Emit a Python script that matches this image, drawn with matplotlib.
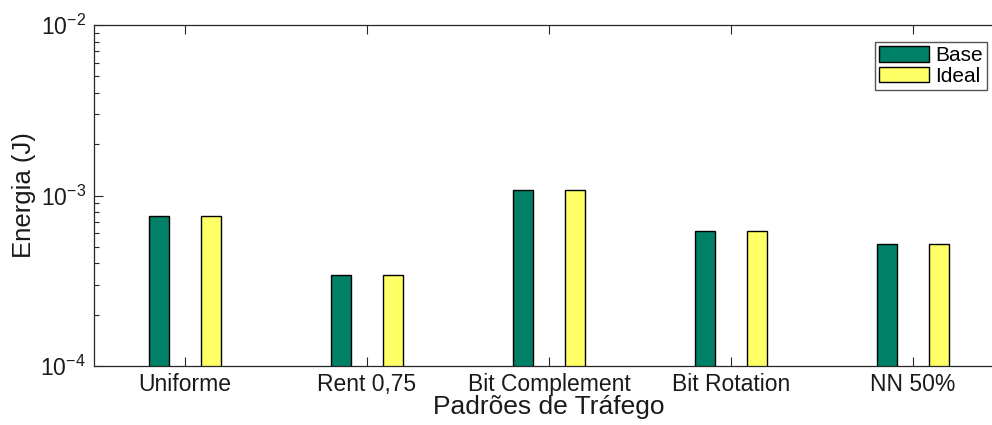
import numpy as np
import matplotlib
matplotlib.use("Agg")
import matplotlib.pyplot as plt
from matplotlib.ticker import LogLocator, NullFormatter, FixedLocator

plt.rcParams["font.family"] = ["Liberation Sans", "DejaVu Sans"]
plt.rcParams["mathtext.default"] = "regular"

# energy per traffic pattern (J)
padroes = ["Uniforme", "Rent 0,75", "Bit Complement", "Bit Rotation", "NN 50%"]
base = [7.52e-4, 3.31e-4, 1.073e-3, 6.11e-4, 5.10e-4]
ideal = [7.48e-4, 3.30e-4, 1.068e-3, 6.09e-4, 5.08e-4]
yticks = [1e-4, 1e-3, 1e-2]
ytick_labels = ["$10^{-4}$", "$10^{-3}$", "$10^{-2}$"]

GREEN, YELLOW = (0.0, 0.5, 0.4), (1.0, 1.0, 0.4)
AXC = "#262626"

fig = plt.figure(figsize=(9.92, 4.25), dpi=100)
ax = fig.add_axes([94 / 992, 59 / 425, 910 / 992, 341 / 425])

x = np.arange(1, len(padroes) + 1)
off, w = 0.143, 0.115
ax.bar(x - off, base, w, bottom=1e-5, color=GREEN, edgecolor="black", lw=1, label="Base")
ax.bar(x + off, ideal, w, bottom=1e-5, color=YELLOW, edgecolor="black", lw=1, label="Ideal")

ax.set_yscale("log")
ax.set_ylim(1e-4, 1e-2)
ax.set_xlim(0.5, 5.5)
ax.yaxis.set_major_locator(FixedLocator(yticks))
ax.set_yticklabels(ytick_labels, fontsize=16.5)
ax.yaxis.set_minor_locator(LogLocator(base=10, subs=np.arange(2, 10)))
ax.yaxis.set_minor_formatter(NullFormatter())
ax.set_xticks(x)
ax.set_xticklabels(padroes, fontsize=16.5)

ax.tick_params(axis="both", which="both", direction="in", colors=AXC,
               labelcolor="#1a1a1a", top=True, right=False)
ax.tick_params(axis="y", which="major", length=6.5, width=0.8, pad=6)
ax.tick_params(axis="y", which="minor", length=3.6, width=0.8)
ax.tick_params(axis="x", which="major", length=6.5, width=0.8, pad=5)
for s in ax.spines.values():
    s.set_color(AXC)
    s.set_linewidth(0.9)

ax.set_xlabel("Padrões de Tráfego", fontsize=19, labelpad=-1, color="#1a1a1a")
ax.set_ylabel("Energia (J)", fontsize=18.5, labelpad=3, color="#1a1a1a")

leg = ax.legend(loc="upper right", bbox_to_anchor=(987 / 992, 1 - 42 / 425),
                bbox_transform=fig.transFigure, fontsize=15, fancybox=False,
                edgecolor="#555555", framealpha=1, handlelength=2.4, handleheight=0.75,
                handletextpad=0.3, borderpad=0.2, labelspacing=0.08, borderaxespad=0)
leg.get_frame().set_linewidth(1.0)

fig.savefig("out.png", dpi=100)
